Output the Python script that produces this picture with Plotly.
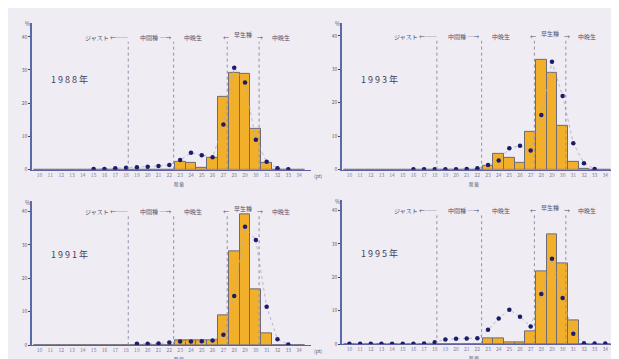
import plotly.graph_objects as go

# categories (x classes) and tick labels
categories = list(range(25))
tick_labels = [str(v) for v in range(10, 35)]

panel_titles = ["1 9 8 8 年", "1 9 9 3 年", "1 9 9 1 年", "1 9 9 5 年"]

# bar series (%), per panel
bars_1988 = [0, 0, 0, 0, 0, 0, 0, 0, 0, 0, 0, 0, 0, 2.4, 1.9, 0.5, 3.4, 21.8, 29.0, 28.8, 12.3, 1.9, 0, 0, 0]
bars_1993 = [0, 0, 0, 0, 0, 0, 0, 0, 0, 0, 0, 0, 0, 1.1, 4.7, 3.4, 2.1, 11.3, 32.9, 29.0, 13.1, 2.3, 0.3, 0, 0]
bars_1991 = [0, 0, 0, 0, 0, 0, 0, 0, 0, 0, 0, 0, 0, 1.3, 1.4, 1.3, 1.4, 8.9, 28.0, 39.0, 16.6, 3.5, 0, 0, 0]
bars_1995 = [0, 0, 0, 0, 0, 0, 0, 0, 0, 0, 0, 0, 0, 1.8, 1.6, 0.5, 0.5, 3.8, 21.8, 32.7, 24.2, 7.2, 0, 0, 0]

# dot series (%), per panel
dots_1988 = [None, None, None, None, None, 0.2, 0.2, 0.4, 0.6, 0.7, 0.9, 1.1, 1.4, 2.9, 5.1, 4.3, 3.7, 13.6, 30.7, 26.2, 9.0, 2.4, 0.4, 0.1, None]
dots_1993 = [None, None, None, None, None, None, 0.1, 0.1, 0.1, 0.1, 0.1, 0.2, 0.4, 1.4, 2.7, 6.4, 7.1, 5.7, 16.3, 32.2, 22.0, 7.9, 1.9, 0.2, None]
dots_1991 = [None, None, None, None, None, None, None, None, None, 0.4, 0.4, 0.5, 0.8, 1.1, 1.1, 1.2, 1.4, 3.1, 14.7, 35.4, 31.4, 11.5, 1.8, 0.2, None]
dots_1995 = [0.1, 0.1, 0.1, 0.1, 0.1, 0.1, 0.1, 0.2, 0.6, 1.4, 1.6, 1.7, 1.8, 4.3, 7.7, 10.3, 8.2, 5.3, 15.0, 25.5, 13.8, 3.1, 0.3, 0.2, 0.2]

y_ticks = [0, 10, 20, 30, 40]
divider_positions = [8.2, 12.4, 17.35, 20.3]

bars_all = [bars_1988, bars_1993, bars_1991, bars_1995]
dots_all = [dots_1988, dots_1993, dots_1991, dots_1995]

W, H = 619, 359
# pixel boxes: (left, right, bottom, top)
boxes = [(24, 303, 163, 15), (334, 609, 163, 15), (24, 303, 340, 195), (334, 609, 339, 194)]
zero_to_40 = [(163, 29), (163, 28), (340, 205), (339, 204)]

fig = go.Figure()
FONT = "Noto Sans CJK JP"
for k in range(4):
    xa = "x" if k == 0 else f"x{k+1}"
    ya = "y" if k == 0 else f"y{k+1}"
    l, r, b, t = boxes[k]
    z, f = zero_to_40[k]
    scale = (z - f) / 40.0
    ytop = (b - t) / scale
    fig.add_trace(go.Bar(x=categories, y=bars_all[k], xaxis=xa, yaxis=ya, width=1.0,
                         marker=dict(color="#f2b02a", line=dict(color="#6e6a78", width=1)),
                         showlegend=False))
    fig.add_trace(go.Scatter(x=categories, y=dots_all[k], xaxis=xa, yaxis=ya, mode="lines+markers",
                             line=dict(color="#a8a8c4", width=0.8, dash="dot"),
                             marker=dict(color="#1c1c6a", size=4.5),
                             connectgaps=False, showlegend=False))
    axn = "" if k == 0 else str(k + 1)
    fig.layout["xaxis" + axn] = dict(domain=[l / W, r / W], range=[-0.7, 25.1], anchor=ya,
                                     tickvals=categories, ticktext=tick_labels, tickangle=0,
                                     tickfont=dict(size=5, color="#8080a0"), showgrid=False,
                                     showline=True, linecolor="#6060a0", linewidth=1, ticks="",
                                     zeroline=False)
    fig.layout["yaxis" + axn] = dict(domain=[1 - b / H, 1 - t / H], range=[0, ytop], anchor=xa,
                                     tickvals=y_ticks, tickfont=dict(size=5, color="#606080"),
                                     showgrid=False, showline=True, linecolor="#5a6aa8", linewidth=1.5,
                                     ticks="outside", ticklen=2, zeroline=False)
    # dividers
    for j, xv in enumerate(divider_positions):
        fig.add_shape(type="line", xref=xa, yref=ya, x0=xv, x1=xv, y0=0, y1=38.5,
                      line=dict(color="#9090a8", width=1, dash="dot"))
    # year label
    fig.add_annotation(xref=xa, yref=ya, x=2.8, y=27, text=panel_titles[k], showarrow=False,
                       font=dict(size=9, color="#404060", family=FONT))
    # percent sign
    fig.add_annotation(xref="paper", yref="paper", x=(l - 9) / W, y=1 - (t + 1) / H, text="%",
                       showarrow=False, font=dict(size=6, color="#606080"), xanchor="left", yanchor="middle")
    # unit label at end of x axis
    fig.add_annotation(xref="paper", yref="paper", x=(r + 1) / W, y=1 - (b + 6) / H, text="(pt)",
                       showarrow=False, font=dict(size=5, color="#606080"), xanchor="left", yanchor="middle")
    # x axis title
    fig.add_annotation(xref="paper", yref="paper", x=(l + 140) / W, y=1 - (b + 9) / H, text="階 級",
                       showarrow=False, font=dict(size=4.5, color="#606080", family=FONT), yanchor="top")
    # top region texts
    top_texts = [(6.2, "ジャスト ←――"), (10.7, "中間種 ―→"), (14.2, "中晩生"),
                 (17.2, "←"), (18.8, "早生種"), (20.4, "→"), (22.3, "中晩生")]
    for xv, txt in top_texts:
        yv = 40.8 if txt == "早生種" else 39.8
        fig.add_annotation(xref=xa, yref=ya, x=xv, y=yv, text=txt, showarrow=False,
                           font=dict(size=6, color="#505070", family=FONT))

fig.update_layout(width=W, height=H, margin=dict(l=0, r=0, t=0, b=0),
                  paper_bgcolor="#efedf3", plot_bgcolor="#efedf3", bargap=0,
                  font=dict(family=FONT))
fig.write_html("out.html")
